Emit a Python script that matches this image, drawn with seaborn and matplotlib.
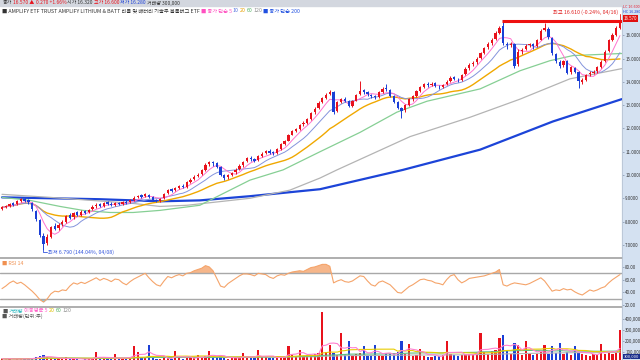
import numpy as np
import pandas as pd
import matplotlib
matplotlib.use('Agg')
import matplotlib.pyplot as plt
import seaborn as sns
from matplotlib.patches import Rectangle

# daily candles (price)
opens = [8.55, 8.62, 8.66, 8.78, 8.74, 8.90, 8.97, 8.92, 8.80, 8.45,
         8.05, 7.40, 7.10, 7.35, 7.80, 7.72, 7.88, 8.00, 8.28, 8.18,
         8.40, 8.30, 8.44, 8.40, 8.52, 8.65, 8.74, 8.68, 8.82, 8.76,
         8.72, 8.80, 8.76, 8.86, 8.82, 8.94, 9.04, 9.12, 9.08, 9.16,
         9.05, 8.94, 8.90, 9.00, 9.22, 9.38, 9.34, 9.46, 9.54, 9.50,
         9.72, 9.82, 9.95, 10.04, 10.22, 10.48, 10.56, 10.50, 10.34, 10.00,
         9.90, 10.00, 10.12, 10.24, 10.42, 10.60, 10.74, 10.70, 10.64, 10.82,
         10.95, 11.04, 10.98, 10.96, 11.12, 11.35, 11.48, 11.74, 11.90, 11.98,
         12.18, 12.25, 12.42, 12.70, 12.88, 13.12, 13.32, 13.46, 13.56, 12.74,
         13.14, 13.28, 13.20, 12.96, 13.20, 13.46, 13.64, 13.56, 13.45, 13.38,
         13.36, 13.58, 13.72, 13.66, 13.38, 13.12, 12.86, 12.78, 13.02, 13.26,
         13.40, 13.62, 13.80, 13.92, 13.88, 13.94, 13.80, 13.78, 13.90, 14.02,
         14.20, 14.10, 14.08, 14.32, 14.58, 14.76, 14.84, 15.02, 15.24, 15.48,
         15.66, 15.84, 16.12, 16.40, 15.64, 15.60, 15.62, 14.75, 15.32, 15.40,
         15.58, 15.62, 15.56, 15.82, 16.22, 16.28, 15.90, 15.20, 14.86, 14.72,
         14.88, 14.42, 14.60, 14.42, 14.00, 14.08, 14.32, 14.40, 14.46, 14.66,
         14.88, 15.32, 15.80, 16.02, 16.32]
highs = [8.66, 8.70, 8.80, 8.84, 8.92, 9.00, 9.02, 8.95, 8.84, 8.50,
         8.10, 7.50, 7.48, 7.82, 7.92, 7.95, 8.05, 8.30, 8.35, 8.42,
         8.46, 8.48, 8.50, 8.56, 8.70, 8.80, 8.80, 8.85, 8.88, 8.82,
         8.84, 8.86, 8.90, 8.92, 8.98, 9.08, 9.16, 9.20, 9.24, 9.20,
         9.08, 8.98, 9.02, 9.24, 9.42, 9.46, 9.50, 9.58, 9.60, 9.75,
         9.86, 9.98, 10.08, 10.26, 10.50, 10.62, 10.62, 10.55, 10.38, 10.05,
         10.04, 10.15, 10.28, 10.46, 10.62, 10.78, 10.80, 10.75, 10.86, 10.98,
         11.08, 11.10, 11.04, 11.15, 11.38, 11.52, 11.78, 11.94, 12.04, 12.20,
         12.30, 12.46, 12.72, 12.90, 13.16, 13.36, 13.52, 13.66, 13.60, 13.18,
         13.32, 13.34, 13.24, 13.24, 13.50, 14.05, 13.70, 13.60, 13.50, 13.44,
         13.62, 13.76, 13.90, 13.70, 13.42, 13.18, 12.92, 13.06, 13.30, 13.44,
         13.66, 13.84, 13.96, 13.98, 13.98, 13.98, 13.86, 13.92, 14.06, 14.24,
         14.26, 14.16, 14.36, 14.62, 14.80, 14.90, 15.06, 15.28, 15.52, 15.70,
         15.90, 16.18, 16.40, 16.61, 15.72, 15.70, 15.68, 15.40, 15.44, 15.62,
         15.68, 15.66, 15.86, 16.28, 16.52, 16.34, 15.94, 15.26, 14.92, 14.96,
         14.92, 14.68, 14.66, 14.48, 14.18, 14.36, 14.46, 14.52, 14.70, 14.92,
         15.36, 15.84, 16.08, 16.38, 16.60]
lows = [8.50, 8.58, 8.62, 8.68, 8.70, 8.84, 8.85, 8.76, 8.46, 8.02,
        7.35, 6.79, 6.98, 7.30, 7.62, 7.65, 7.80, 7.95, 8.10, 8.12,
        8.24, 8.26, 8.32, 8.35, 8.48, 8.60, 8.62, 8.64, 8.70, 8.66,
        8.68, 8.70, 8.72, 8.76, 8.78, 8.90, 9.00, 9.02, 9.04, 9.02,
        8.88, 8.82, 8.86, 8.98, 9.18, 9.28, 9.30, 9.40, 9.44, 9.46,
        9.66, 9.78, 9.90, 10.00, 10.18, 10.40, 10.40, 10.30, 9.95, 9.80,
        9.84, 9.96, 10.06, 10.20, 10.36, 10.56, 10.62, 10.55, 10.60, 10.78,
        10.90, 10.90, 10.88, 10.92, 11.08, 11.30, 11.44, 11.70, 11.84, 11.94,
        12.10, 12.20, 12.38, 12.64, 12.84, 13.08, 13.28, 13.42, 12.62, 12.70,
        13.08, 13.12, 12.90, 12.92, 13.16, 13.42, 13.50, 13.40, 13.30, 13.28,
        13.32, 13.54, 13.62, 13.36, 13.08, 12.82, 12.45, 12.72, 12.98, 13.20,
        13.36, 13.58, 13.74, 13.80, 13.82, 13.76, 13.70, 13.72, 13.86, 13.98,
        14.06, 13.98, 14.04, 14.28, 14.52, 14.70, 14.78, 14.98, 15.20, 15.42,
        15.60, 15.80, 16.06, 15.58, 15.40, 15.50, 14.60, 14.70, 15.20, 15.36,
        15.50, 15.40, 15.52, 15.78, 16.18, 15.86, 15.16, 14.80, 14.60, 14.66,
        14.34, 14.36, 14.38, 13.72, 13.90, 14.02, 14.26, 14.34, 14.40, 14.60,
        14.84, 15.28, 15.74, 15.98, 16.28]
closes = [8.61, 8.66, 8.76, 8.72, 8.88, 8.95, 8.90, 8.82, 8.52, 8.10,
          7.42, 7.05, 7.35, 7.75, 7.70, 7.85, 7.98, 8.24, 8.15, 8.36,
          8.30, 8.42, 8.38, 8.50, 8.62, 8.72, 8.66, 8.80, 8.76, 8.70,
          8.80, 8.74, 8.85, 8.80, 8.93, 9.02, 9.10, 9.06, 9.18, 9.06,
          8.94, 8.88, 8.98, 9.20, 9.36, 9.32, 9.45, 9.52, 9.48, 9.70,
          9.80, 9.92, 10.02, 10.20, 10.45, 10.55, 10.50, 10.36, 10.00, 9.88,
          9.98, 10.10, 10.22, 10.40, 10.58, 10.72, 10.68, 10.62, 10.80, 10.92,
          11.02, 10.96, 10.94, 11.10, 11.32, 11.45, 11.72, 11.88, 11.96, 12.15,
          12.22, 12.40, 12.66, 12.84, 13.10, 13.30, 13.45, 13.58, 12.70, 13.12,
          13.26, 13.18, 12.98, 13.18, 13.44, 13.62, 13.58, 13.46, 13.38, 13.34,
          13.56, 13.70, 13.68, 13.40, 13.14, 12.88, 12.76, 13.00, 13.25, 13.38,
          13.60, 13.78, 13.90, 13.86, 13.92, 13.82, 13.76, 13.88, 14.00, 14.18,
          14.12, 14.06, 14.30, 14.56, 14.74, 14.82, 15.00, 15.22, 15.46, 15.64,
          15.82, 16.10, 16.30, 15.66, 15.58, 15.64, 14.70, 15.30, 15.38, 15.56,
          15.62, 15.54, 15.80, 16.20, 16.30, 15.92, 15.22, 14.88, 14.70, 14.90,
          14.40, 14.62, 14.44, 14.02, 14.06, 14.30, 14.38, 14.44, 14.64, 14.86,
          15.30, 15.78, 16.00, 16.30, 16.57]
# volume in thousands of shares
volume_k = [40, 32, 45, 30, 38, 35, 42, 36, 48, 55,
            62, 70, 50, 45, 38, 42, 35, 50, 33, 40,
            36, 30, 34, 38, 45, 100, 40, 35, 32, 38,
            80, 36, 34, 40, 55, 150, 100, 45, 50, 165,
            50, 38, 34, 45, 48, 40, 110, 42, 36, 45,
            48, 44, 70, 50, 60, 110, 58, 52, 60, 48,
            40, 44, 46, 50, 90, 48, 44, 42, 120, 50,
            55, 46, 44, 50, 62, 58, 150, 70, 65, 120,
            62, 70, 75, 80, 95, 460, 100, 160, 90, 70,
            270, 85, 200, 65, 80, 95, 150, 70, 68, 160,
            65, 60, 90, 80, 95, 100, 200, 85, 170, 65,
            72, 130, 62, 58, 55, 65, 60, 72, 200, 80,
            68, 65, 75, 85, 78, 70, 95, 270, 100, 85,
            105, 115, 230, 250, 105, 80, 180, 160, 72, 200,
            80, 68, 85, 100, 160, 85, 150, 95, 180, 80,
            100, 68, 150, 95, 80, 75, 65, 82, 72, 170,
            85, 100, 80, 95, 300]
# RSI(14) as drawn in the lower panel
rsi14 = [46, 50, 55, 58, 54, 56, 52, 47, 42, 36,
         29, 25, 30, 38, 42, 41, 44, 43, 50, 55,
         53, 56, 54, 57, 60, 63, 59, 62, 60, 57,
         61, 60, 55, 52, 57, 61, 64, 67, 70, 63,
         57, 52, 50, 58, 65, 63, 66, 68, 66, 70,
         71, 74, 76, 78, 82, 80, 74, 62, 50, 48,
         54, 58, 62, 66, 69, 69, 68, 66, 70, 69,
         68, 64, 62, 66, 68, 67, 70, 72, 73, 74,
         73, 76, 79, 80, 82, 84, 84, 81, 55, 58,
         60, 57, 56, 58, 62, 66, 65, 58, 52, 50,
         56, 58, 55, 52, 46, 40, 39, 44, 49, 52,
         56, 60, 61, 59, 58, 55, 54, 52, 60, 66,
         68, 60, 55, 58, 62, 63, 64, 65, 66, 68,
         70, 72, 76, 52, 50, 53, 55, 54, 53, 52,
         54, 57, 60, 63, 58, 50, 42, 44, 43, 46,
         44, 45, 41, 38, 36, 40, 44, 42, 44, 47,
         49, 55, 60, 64, 68]

# long moving averages (candle index, price)
ma60_idx = [0, 7.4, 15.4, 21.5, 28.7, 34.8, 41.9, 52.5, 65.8, 74.6, 84.4, 95.0, 104.8, 112.8, 126.9, 137.5, 145.4, 151.5, 164.5]
ma60_val = [9.04, 8.91, 8.65, 8.48, 8.39, 8.39, 8.48, 8.70, 9.78, 10.22, 11.00, 11.83, 12.70, 13.17, 13.70, 14.48, 14.91, 15.13, 15.22]
ma120_idx = [0, 12.7, 34.8, 41.9, 49.1, 65.8, 76.4, 84.4, 88.9, 108.3, 124.2, 137.5, 150.7, 164.5]
ma120_val = [9.17, 9.04, 8.78, 8.65, 8.70, 9.00, 9.35, 9.87, 10.22, 11.65, 12.48, 13.26, 14.13, 14.57]
ma200_idx = [0, 26.0, 41.9, 52.5, 65.8, 84.4, 106.4, 126.9, 146.2, 164.5]
ma200_val = [9.04, 8.96, 8.87, 8.91, 9.09, 9.39, 10.22, 11.09, 12.30, 13.26]

price_ticks = [7, 8, 9, 10, 11, 12, 13, 14, 15, 16]
rsi_ticks = [20, 40, 60, 80]
vol_ticks = [100000, 200000, 300000, 400000]

RED = '#e8121c'
BLUE = '#1b3fd6'

sns.set_style('white')
plt.rcParams['font.family'] = ['Noto Sans CJK KR', 'DejaVu Sans']
plt.rcParams['axes.unicode_minus'] = False

df = pd.DataFrame({'open': opens, 'high': highs, 'low': lows, 'close': closes,
                   'vol': np.array(volume_k) * 1000, 'rsi': rsi14})
df['idx'] = np.arange(len(df))
df['dir'] = np.where(df.close >= df.open, 'up', 'down')
for n in [5, 10, 20]:
    df[f'ma{n}'] = df.close.rolling(n, min_periods=1).mean()
for n in [5, 20, 60, 120]:
    df[f'vma{n}'] = df.vol.rolling(n, min_periods=1).mean()

W, H = 640, 360
fig = plt.figure(figsize=(6.4, 3.6), dpi=100)


def box(x0, y0, x1, y1):
    return [x0 / W, 1 - y1 / H, (x1 - x0) / W, (y1 - y0) / H]


def chain(x, y, pieces, size=4.0, **kw):
    r = fig.canvas.get_renderer()
    for s, c in pieces:
        t = fig.text(x / W, 1 - y / H, s, color=c, fontsize=size, va='center', ha='left', **kw)
        x += t.get_window_extent(renderer=r).width + 1


# header strip and right scale column (behind the axes)
fig.patches.append(Rectangle((0, 1 - 6 / H), 1, 6 / H, transform=fig.transFigure,
                             color='#d3d7df', zorder=-2))
fig.patches.append(Rectangle((622 / W, 0), 18 / W, 1 - 6 / H, transform=fig.transFigure,
                             color='#d4e1f1', zorder=-2))

ax = fig.add_axes(box(0, 6, 622, 258))
axr = fig.add_axes(box(0, 258, 622, 307))
axv = fig.add_axes(box(0, 307, 622, 360))
xlim = (-0.53, 164.54)

# --- price panel
colors = np.where(df.dir == 'up', RED, BLUE)
ax.vlines(df.idx, df.low, df.high, colors=colors, lw=0.7, zorder=4)
body = np.maximum((df.close - df.open).abs(), 0.025)
ax.bar(df.idx, body, bottom=np.minimum(df.open, df.close), width=0.6,
       color=colors, linewidth=0, zorder=5)

sns.lineplot(x=ma200_idx, y=ma200_val, color='#1c44d8', lw=1.6, ax=ax, zorder=3)
sns.lineplot(x=ma120_idx, y=ma120_val, color='#b4b4b4', lw=0.9, ax=ax, zorder=3)
sns.lineplot(x=ma60_idx, y=ma60_val, color='#86cf94', lw=0.9, ax=ax, zorder=3)
sns.lineplot(data=df, x='idx', y='ma20', color='#f0a800', lw=1.0, ax=ax, zorder=3)
sns.lineplot(data=df, x='idx', y='ma10', color='#8494dc', lw=0.7, ax=ax, zorder=3)
sns.lineplot(data=df, x='idx', y='ma5', color='#ff74d0', lw=0.7, ax=ax, zorder=3)

hi_i = int(df.high.idxmax())
hi = df.high.max()
lo_i = int(df.low.idxmin())
lo = df.low.min()
last = df.close.iloc[-1]
ax.hlines(hi, hi_i - 0.4, xlim[1], color='#ee1111', lw=2.2, zorder=6)
ax.plot([163.9, 163.9], [hi, hi + 0.3], color='#ee1111', lw=0.6)
ax.text(163.5, hi + 0.38, f"최고 {hi:.3f} ({(last / hi - 1) * 100:.2f}%, 04/16)",
        ha='right', va='center', fontsize=3.8, color='#e02020')
ax.plot([lo_i, lo_i, lo_i + 0.9], [lo - 0.02, 6.70, 6.70], color='#3355dd', lw=0.6)
ax.text(lo_i + 1.1, 6.70, f"최저 {lo:.3f} ({(last / lo - 1) * 100:.2f}%, 04/08)",
        va='center', fontsize=3.8, color='#3355dd')

ax.set_ylim(6.435, 17.26)
ax.set_yticks(price_ticks)
ax.set_yticklabels([f"{v:.4f}" for v in price_ticks])

# --- RSI panel
axr.fill_between(df.idx, df.rsi, 70, where=df.rsi > 70, interpolate=True,
                 color='#f6b68a', lw=0)
axr.fill_between(df.idx, df.rsi, 30, where=df.rsi < 30, interpolate=True,
                 color='#86cdec', lw=0)
axr.axhline(70, color='#a8a8a8', lw=1.0)
axr.axhline(30, color='#a8a8a8', lw=1.0)
sns.lineplot(data=df, x='idx', y='rsi', color='#f5a46a', lw=0.8, ax=axr)
axr.set_ylim(17.2, 94)
axr.set_yticks(rsi_ticks)
axr.set_yticklabels([f"{v:.2f}" for v in rsi_ticks])

# --- volume panel
sns.barplot(data=df, x='idx', y='vol', hue='dir', palette={'up': RED, 'down': BLUE},
            dodge=False, native_scale=True, width=0.6, errorbar=None, legend=False,
            saturation=1, linewidth=0, ax=axv)
sns.lineplot(data=df, x='idx', y='vma120', color='#b4b4b4', lw=0.8, ax=axv)
sns.lineplot(data=df, x='idx', y='vma60', color='#60c080', lw=0.8, ax=axv)
sns.lineplot(data=df, x='idx', y='vma20', color='#e8cc00', lw=0.8, ax=axv)
sns.lineplot(data=df, x='idx', y='vma5', color='#ff80d0', lw=0.8, ax=axv)
axv.set_ylim(27000, 509000)
axv.set_yticks(vol_ticks)
axv.set_yticklabels([f"{v:,}" for v in vol_ticks])

for a in (ax, axr, axv):
    a.set_xlim(*xlim)
    a.set_xlabel('')
    a.set_ylabel('')
    a.set_xticks([])
    a.set_facecolor('none')
    for s in a.spines.values():
        s.set_visible(False)
    a.yaxis.tick_right()
    a.tick_params(axis='y', direction='out', length=1.5, width=0.5, pad=0.8,
                  labelsize=3.2, colors='#8090a8', labelcolor='#333333')

# panel separators
for yy in (258, 307):
    fig.add_artist(plt.Line2D([0, 622 / W], [1 - yy / H] * 2, color='#a8a8a8', lw=1.3))
fig.add_artist(plt.Line2D([622 / W] * 2, [0, 1 - 6 / H], color='#b8c4d4', lw=0.6))

# texts
chain(3, 3, [("종가", '#333333'), (f"{last:.3f} ▲", RED), ("0.270 +1.66%", RED),
             ("시가 16.320", '#333333'), ("고가 16.600", RED), ("저가 16.280", BLUE),
             ("거래량 300,000", '#333333')], size=3.6)
chain(2, 11, [("■ AMPLIFY ETF TRUST AMPLIFY LITHIUM & BATT 리튬 및 배터리 기술주 블룸버그 ETF", '#333333'),
              ("■ 종가 단순 5", '#ff50c0'), ("10", '#5070e0'), ("20", '#e8a000'),
              ("60", '#50b060'), ("120", '#909090'), ("■ 종가 단순 200", '#2050e0')], size=3.8)
chain(2, 263, [("■ RSI 14", '#f09050')], size=3.8)
chain(2, 311, [("■", '#555555'), ("거래량", '#30b8c0'), ("이동평균 5", '#ff60c8'),
               ("20", '#e0c000'), ("60", '#50b060'), ("120", '#909090')], size=3.8)
chain(2, 316, [("■ 거래량(단위:주)", '#555555')], size=3.8)

fig.text(623 / W, 1 - 7.5 / H, "LC 16.600", color=RED, fontsize=2.7, va='center')
fig.text(623 / W, 1 - 12 / H, "HC 16.280", color=BLUE, fontsize=2.7, va='center')
fig.text(624 / W, 1 - 18.5 / H, f"{last:.3f}", color='white', fontsize=3.2, va='center',
         bbox=dict(facecolor='#e01010', edgecolor='none', pad=0.6))
fig.text(624 / W, 1 - 356.5 / H, f"{int(df.vol.iloc[-1]):,}", color='white', fontsize=3.0,
         va='center', bbox=dict(facecolor='#1a2f8c', edgecolor='none', pad=0.5))

fig.savefig('out.png', dpi=100)
